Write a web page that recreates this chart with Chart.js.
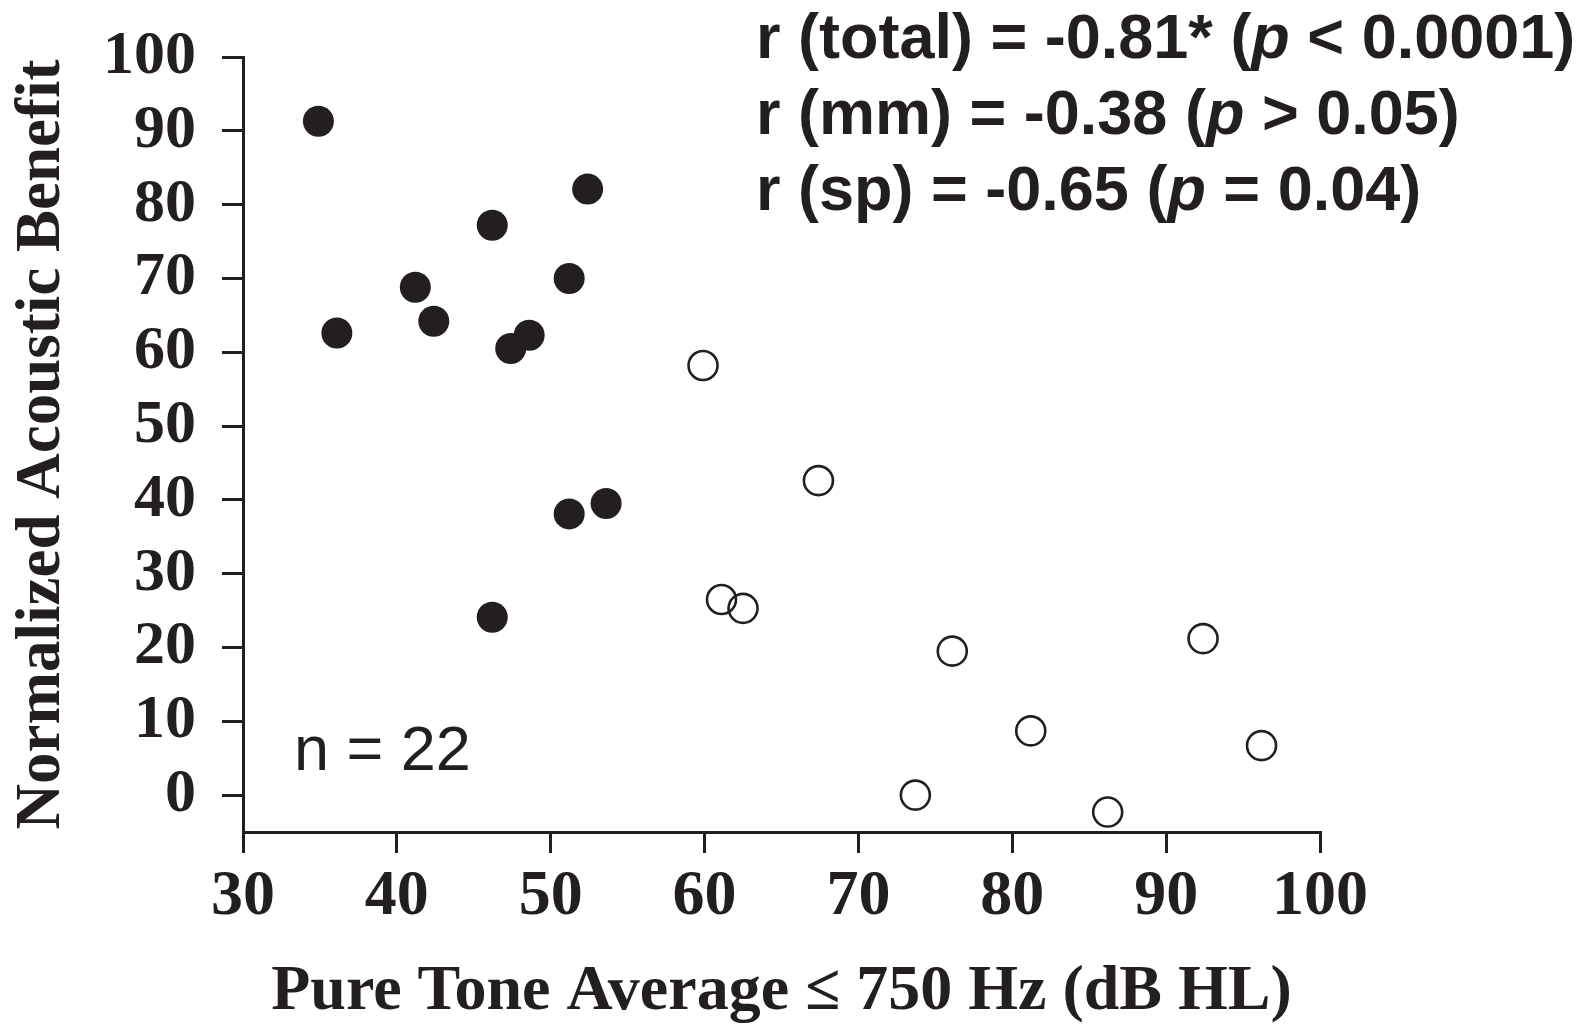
<!DOCTYPE html>
<html>
<head>
<meta charset="utf-8">
<title>Acoustic benefit vs PTA</title>
<script src="https://cdn.jsdelivr.net/npm/chart.js@4"></script>
<style>
  html, body { margin: 0; padding: 0; background: #fff; }
  #wrap { width: 1593px; height: 1024px; position: relative; }
</style>
</head>
<body>
<div id="wrap"><canvas id="scatter"></canvas></div>
<script>
// Low-frequency PTA (dB HL) vs normalized acoustic benefit
const mmPta     = [34.9, 36.1, 41.2, 42.4, 46.2, 47.4, 48.6, 51.2, 52.4, 51.2, 53.6, 46.2];
const mmBenefit = [91.3, 62.6, 68.8, 64.2, 77.2, 60.5, 62.3, 70.0, 82.1, 38.1, 39.5, 24.1];

const spPta     = [59.9, 67.4, 61.1, 62.5, 76.1, 92.4, 81.2, 96.2, 73.7, 86.2];
const spBenefit = [58.2, 42.6, 26.5, 25.3, 19.5, 21.2, 8.7, 6.7, 0.0, -2.3];

const xTicks = [30, 40, 50, 60, 70, 80, 90, 100];
const yTicks = [0, 10, 20, 30, 40, 50, 60, 70, 80, 90, 100];

const statLines = [
    [["r (total) = -0.81* (", false], ["p", true], [" < 0.0001)", false]],
    [["r (mm) = -0.38 (", false], ["p", true], [" > 0.05)", false]],
    [["r (sp) = -0.65 (", false], ["p", true], [" = 0.04)", false]]
];
const sampleLabel = "n = 22";

const ink = "#231f20";
const serif = "'Liberation Serif', 'Times New Roman', serif";
const sans = "'Liberation Sans', Arial, sans-serif";

const toPoints = (xs, ys) => xs.map((x, i) => ({ x: x, y: ys[i] }));

// stats block top right + sample size, drawn after the datasets
const statsText = {
    id: "statsText",
    afterDraw(chart) {
        const ctx = chart.ctx;
        ctx.save();
        ctx.fillStyle = ink;
        ctx.textBaseline = "alphabetic";
        ctx.textAlign = "left";
        statLines.forEach((parts, i) => {
            let x = 756;
            const y = 58 + i * 76;
            parts.forEach(([text, italic]) => {
                ctx.font = (italic ? "italic " : "") + "bold 63px " + sans;
                ctx.fillText(text, x, y);
                x += ctx.measureText(text).width;
            });
        });
        ctx.font = "63px " + sans;
        ctx.fillText(sampleLabel, 294, 770);
        ctx.restore();
    }
};

const axisGrid = {
    display: true,
    drawOnChartArea: false,
    drawTicks: true,
    tickLength: 21,
    color: ink,
    lineWidth: 3
};

new Chart(document.getElementById("scatter").getContext("2d"), {
    type: "scatter",
    data: {
        datasets: [
            {
                label: "mm",
                data: toPoints(mmPta, mmBenefit),
                pointRadius: 15.5,
                pointBackgroundColor: ink,
                pointBorderColor: ink,
                pointBorderWidth: 0
            },
            {
                label: "sp",
                data: toPoints(spPta, spBenefit),
                pointRadius: 14.5,
                pointBackgroundColor: "rgba(0,0,0,0)",
                pointBorderColor: ink,
                pointBorderWidth: 2.6
            }
        ]
    },
    options: {
        responsive: true,
        maintainAspectRatio: false,
        animation: false,
        clip: false,
        layout: {
            autoPadding: false,
            padding: { left: 0, right: 273, top: 57, bottom: 0 }
        },
        plugins: {
            legend: { display: false },
            tooltip: { enabled: false }
        },
        scales: {
            x: {
                type: "linear",
                min: 30,
                max: 100,
                afterFit: (scale) => {
                    scale.height = 192;
                    scale.paddingLeft = 0;
                    scale.paddingRight = 0;
                },
                afterBuildTicks: (scale) => { scale.ticks = xTicks.map(v => ({ value: v })); },
                border: { display: true, color: ink, width: 3 },
                grid: axisGrid,
                ticks: {
                    color: ink,
                    padding: 6,
                    autoSkip: false,
                    maxRotation: 0,
                    font: { family: serif, size: 64, weight: "bold", lineHeight: 1.2 }
                },
                title: {
                    display: true,
                    text: "Pure Tone Average \u2264 750 Hz (dB HL)",
                    color: ink,
                    padding: { top: 0, bottom: 0 },
                    font: { family: serif, size: 64, weight: "bold", lineHeight: 1 }
                }
            },
            y: {
                type: "linear",
                min: -5,
                max: 100,
                afterFit: (scale) => {
                    scale.width = 243;
                    scale.paddingTop = 0;
                    scale.paddingBottom = 0;
                },
                afterBuildTicks: (scale) => { scale.ticks = yTicks.map(v => ({ value: v })); },
                border: { display: true, color: ink, width: 3 },
                grid: axisGrid,
                ticks: {
                    color: ink,
                    padding: 26,
                    autoSkip: false,
                    font: { family: serif, size: 62, weight: "bold", lineHeight: 1.2 }
                },
                title: {
                    display: true,
                    text: "Normalized Acoustic Benefit",
                    color: ink,
                    padding: { top: 5, bottom: 0 },
                    font: { family: serif, size: 63, weight: "bold", lineHeight: 1.2 }
                }
            }
        }
    },
    plugins: [statsText]
});
</script>
</body>
</html>
